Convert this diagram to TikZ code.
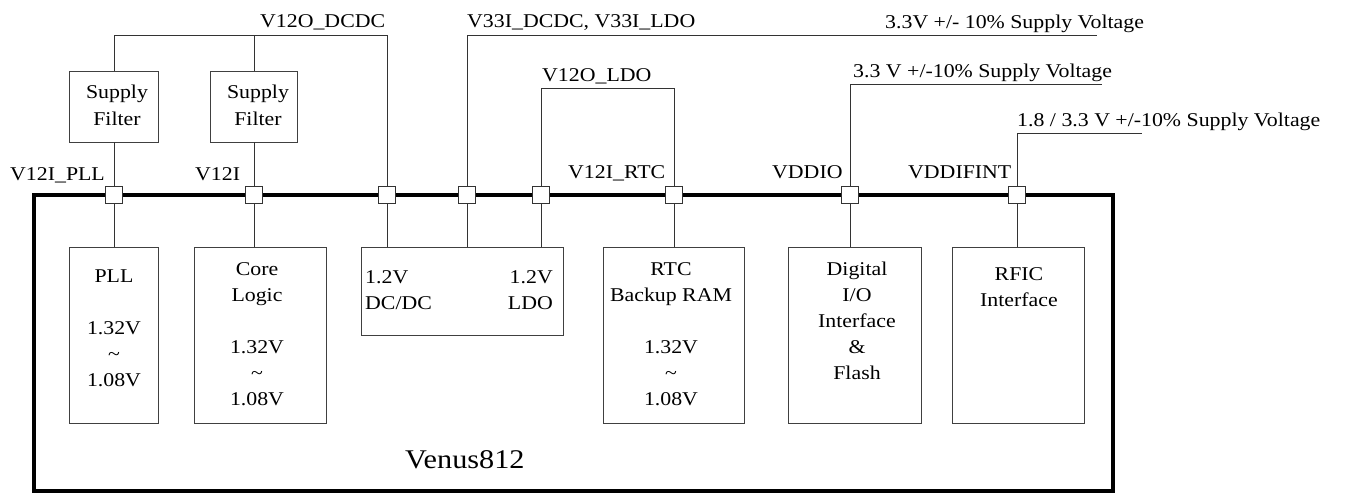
\documentclass[tikz,border=0pt]{standalone}
\usepackage{fontspec}
\setmainfont{Liberation Serif}[FakeStretch=1.12]
\begin{document}
\begin{tikzpicture}[x=1pt,y=-1pt,line cap=butt,line join=miter,
  every node/.style={inner sep=0pt},
  txt/.style={font=\fontsize{19.5}{26}\selectfont,align=center},
  blk/.style={draw=black!75,line width=0.9pt,minimum width=#1},
  pad/.style={draw=black!80,fill=white,line width=0.9pt,minimum size=17pt},
  wire/.style={draw=black!80,line width=0.9pt}]
  \useasboundingbox (0,0) rectangle (1345,493);
  % chip outline and power ring
  \draw[line width=3.5pt] (34,195) rectangle (1113,491);
  \node[txt,font=\fontsize{27}{30}\selectfont,anchor=base west] (chip) at (405,468) {Venus812};
  % pads
  \node[pad] (ppll) at (114,195) {};
  \node[pad] (pcore) at (254,195) {};
  \node[pad] (pdcdc) at (387,195) {};
  \node[pad] (pv33) at (467,195) {};
  \node[pad] (pldo) at (541,195) {};
  \node[pad] (prtc) at (674,195) {};
  \node[pad] (pio) at (850,195) {};
  \node[pad] (pif) at (1017,195) {};
  % blocks
  \node[blk=89pt,minimum height=71pt] (fpll) at (114,106.5) {};
  \node[blk=87pt,minimum height=71pt] (fcore) at (254,106.5) {};
  \node[blk=89pt,minimum height=176pt] (pll) at (114,335) {};
  \node[blk=132pt,minimum height=176pt] (core) at (260,335) {};
  \node[blk=202pt,minimum height=88pt] (reg) at (462,291) {};
  \node[blk=141pt,minimum height=176pt] (rtc) at (673.5,335) {};
  \node[blk=133pt,minimum height=176pt] (dio) at (854.5,335) {};
  \node[blk=132pt,minimum height=176pt] (rfic) at (1018,335) {};
  % block texts
  \node[txt,anchor=north,font=\fontsize{19.5}{27}\selectfont] (tfpll) at (117,85) {Supply\\Filter};
  \node[txt,anchor=north,font=\fontsize{19.5}{27}\selectfont] (tfcore) at (258,85) {Supply\\Filter};
  \node[txt,anchor=north] (tpll) at (114,270) {PLL\\[26pt]1.32V\\\textasciitilde\\1.08V};
  \node[txt,anchor=north] (tcore) at (257,262) {Core\\Logic\\[26pt]1.32V\\\textasciitilde\\1.08V};
  \node[txt,anchor=north west,align=left] (tdcdc) at (365,270) {1.2V\\DC/DC};
  \node[txt,anchor=north east,align=right] (tldo) at (553,270) {1.2V\\LDO};
  \node[txt,anchor=north] (trtc) at (671,262) {RTC\\Backup RAM\\[26pt]1.32V\\\textasciitilde\\1.08V};
  \node[txt,anchor=north] (tdio) at (857,262) {Digital\\I/O\\Interface\\\&\\Flash};
  \node[txt,anchor=north] (trfic) at (1019,267) {RFIC\\Interface};
  % supply nets
  \coordinate (dcdctop) at (387,35);
  \coordinate (v33end) at (1097,35);
  \coordinate (ldotop) at (674,88);
  \coordinate (ioend) at (1102,84);
  \coordinate (ifend) at (1142,133);
  \draw[wire] (fpll.north) |- (dcdctop) -- (pdcdc.north);
  \draw[wire] (fcore.north) -- (fcore.north |- dcdctop);
  \draw[wire] (fpll.south) -- (ppll.north);
  \draw[wire] (ppll.south) -- (pll.north);
  \draw[wire] (fcore.south) -- (pcore.north);
  \draw[wire] (pcore.south) -- (pcore.south |- core.north);
  \draw[wire] (pdcdc.south) -- (pdcdc.south |- reg.north);
  \draw[wire] (pv33.south) -- (pv33.south |- reg.north);
  \draw[wire] (pv33.north) |- (v33end);
  \draw[wire] (pldo.south) -- (pldo.south |- reg.north);
  \draw[wire] (pldo.north) |- (ldotop) -- (prtc.north);
  \draw[wire] (prtc.south) -- (prtc.south |- rtc.north);
  \draw[wire] (pio.south) -- (pio.south |- dio.north);
  \draw[wire] (pio.north) |- (ioend);
  \draw[wire] (pif.south) -- (pif.south |- rfic.north);
  \draw[wire] (pif.north) |- (ifend);
  % net labels
  \node[txt,anchor=base west] (ldcdc) at (260,27) {V12O\_DCDC};
  \node[txt,anchor=base west] (lv33) at (467,27) {V33I\_DCDC, V33I\_LDO};
  \node[txt,anchor=base west] (lv33s) at (885,28) {3.3V +/- 10\% Supply Voltage};
  \node[txt,anchor=base west] (lldo) at (542,81) {V12O\_LDO};
  \node[txt,anchor=base west] (lios) at (853,77) {3.3 V +/-10\% Supply Voltage};
  \node[txt,anchor=base west] (lifs) at (1017,126) {1.8 / 3.3 V +/-10\% Supply Voltage};
  \node[txt,anchor=base west] (lpll) at (10,180) {V12I\_PLL};
  \node[txt,anchor=base west] (lcore) at (195,180) {V12I};
  \node[txt,anchor=base west] (lrtc) at (568,178) {V12I\_RTC};
  \node[txt,anchor=base west] (lio) at (772,178) {VDDIO};
  \node[txt,anchor=base west] (lif) at (908,178) {VDDIFINT};
\end{tikzpicture}
\end{document}
